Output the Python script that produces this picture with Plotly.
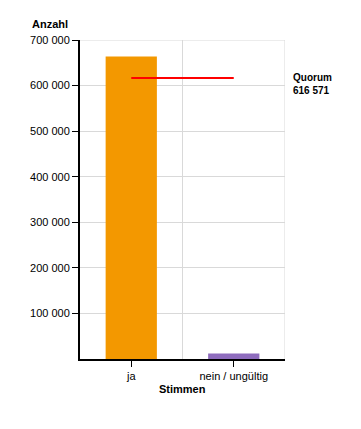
import plotly.graph_objects as go

categories = ["ja", "nein / ungültig"]
values = [664000, 12000]
bar_colors = ["#F39800", "#8E6CBD"]
quorum = 616571
y_ticks = [100000, 200000, 300000, 400000, 500000, 600000, 700000]

xpos = list(range(len(categories)))

fig = go.Figure()
fig.add_trace(go.Bar(x=xpos, y=values, width=0.5, marker=dict(color=bar_colors, line=dict(width=0)),
                     showlegend=False, hoverinfo="skip"))
fig.add_trace(go.Scatter(x=[xpos[0], xpos[1]], y=[quorum, quorum], mode="lines",
                         line=dict(color="#FF0000", width=2), showlegend=False, hoverinfo="skip"))

# vertical gridlines at category boundaries
for b in [0.5, 1.5]:
    fig.add_shape(type="line", xref="x", yref="y", x0=b, x1=b, y0=0, y1=700000,
                  line=dict(color="#D9D9D9", width=1), layer="below")
# top gridline
fig.add_shape(type="line", xref="x", yref="y", x0=-0.5, x1=1.5, y0=700000, y1=700000,
              line=dict(color="#D9D9D9", width=1), layer="below")

fig.update_layout(
    width=361, height=429,
    margin=dict(l=80, r=76, t=40, b=70),
    paper_bgcolor="white", plot_bgcolor="white",
    separators=", ",
    font=dict(family="Liberation Sans, Arial, sans-serif", size=11, color="#000000"),
    xaxis=dict(range=[-0.5, 1.5], tickvals=xpos, ticktext=categories, showgrid=False,
               showline=True, linecolor="#000000", linewidth=2, ticks="outside",
               ticklen=6, tickwidth=1, tickcolor="#000000", zeroline=False, fixedrange=True),
    yaxis=dict(range=[0, 700000], tickvals=y_ticks, tickformat=",d", showgrid=True,
               gridcolor="#D9D9D9", gridwidth=1, showline=True, linecolor="#000000",
               linewidth=2, ticks="outside", ticklen=6, tickwidth=1, tickcolor="#000000",
               zeroline=False, fixedrange=True),
    annotations=[
        dict(text="<b>Anzahl</b>", xref="paper", yref="paper", x=0, y=1, xanchor="right",
             yanchor="bottom", xshift=-10, yshift=8, showarrow=False, font=dict(size=11)),
        dict(text="<b>Stimmen</b>", xref="paper", yref="paper", x=0.5, y=0, xanchor="center",
             yanchor="top", yshift=-22, showarrow=False, font=dict(size=11)),
        dict(text="<b>Quorum<br>616 571</b>", xref="paper", yref="y", x=1, y=quorum,
             xanchor="left", yanchor="top", xshift=6, yshift=8, align="left",
             showarrow=False, font=dict(size=10)),
    ],
)

fig.write_html("out.html")
